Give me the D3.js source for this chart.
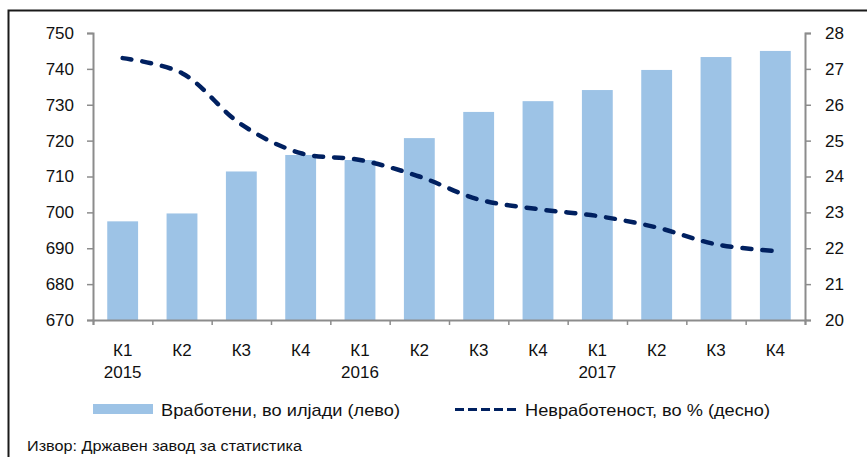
<!DOCTYPE html>
<html>
<head>
<meta charset="utf-8">
<script src="https://cdn.jsdelivr.net/npm/d3@7"></script>
<style>
  body { margin: 0; background: #fff; }
  svg { display: block; font-family: "Liberation Sans", Arial, sans-serif; }
</style>
</head>
<body>
<svg id="chart" width="867" height="457"></svg>
<script>
const quarters = ["К1","К2","К3","К4","К1","К2","К3","К4","К1","К2","К3","К4"];
const years = ["2015","","","","2016","","","","2017","","",""];
const employed = [697.5, 699.7, 711.4, 716.0, 714.6, 720.7, 728.0, 731.0, 734.1, 739.7, 743.3, 745.0];
const unemployment = [27.3, 26.88, 25.45, 24.65, 24.46, 24.0, 23.36, 23.09, 22.9, 22.58, 22.11, 21.92];
const leftTicks = [670, 680, 690, 700, 710, 720, 730, 740, 750];
const rightTicks = [20, 21, 22, 23, 24, 25, 26, 27, 28];
const legendLabels = ["Вработени, во илјади (лево)", "Невработеност, во % (десно)"];
const sourceText = "Извор: Државен завод за статистика";

const svg = d3.select("#chart");
const L = 93, R = 805, T = 33, B = 320;
const axisColor = "#8c8c8c";
const barColor = "#9dc3e6";
const lineColor = "#002060";
const fs = 17;

// frame
svg.append("rect").attr("x", 8.5).attr("y", 10.5).attr("width", 900).attr("height", 500)
  .attr("fill", "none").attr("stroke", "#1a1a1a").attr("stroke-width", 2);

const idx = d3.range(quarters.length);
const x = d3.scaleBand().domain(idx).range([L, R]).paddingInner(0.48).paddingOuter(0.24);
const xb = d3.scaleLinear().domain([0, quarters.length]).range([L, R]);
const yL = d3.scaleLinear().domain([670, 750]).range([B, T]);
const yR = d3.scaleLinear().domain([20, 28]).range([B, T]);

// bars
svg.append("g").selectAll("rect").data(employed).join("rect")
  .attr("x", (d, i) => x(i)).attr("width", x.bandwidth())
  .attr("y", d => yL(d)).attr("height", d => yL(670) - yL(d))
  .attr("fill", barColor);

// left axis
const gL = svg.append("g").attr("transform", `translate(${L},0)`)
  .call(d3.axisLeft(yL).tickValues(leftTicks).tickSize(6).tickPadding(13).tickFormat(d3.format("d")));
// right axis
const gR = svg.append("g").attr("transform", `translate(${R},0)`)
  .call(d3.axisRight(yR).tickValues(rightTicks).tickSize(6).tickPadding(14).tickFormat(d3.format("d")));
// bottom axis (ticks at band boundaries)
const gB = svg.append("g").attr("transform", `translate(0,${B})`)
  .call(d3.axisBottom(xb).tickValues(d3.range(quarters.length + 1)).tickSize(5).tickFormat(""));

[gL, gR, gB].forEach(g => {
  g.select(".domain").attr("stroke", axisColor).attr("stroke-width", 2);
  g.selectAll(".tick line").attr("stroke", axisColor).attr("stroke-width", 1.5);
  g.selectAll(".tick text").attr("fill", "#111").attr("font-size", fs)
    .attr("font-family", "'Liberation Sans', Arial, sans-serif");
});

// category labels
const cx = i => x(i) + x.bandwidth() / 2;
svg.append("g").selectAll("text").data(quarters).join("text")
  .attr("x", (d, i) => cx(i)).attr("y", 356).attr("text-anchor", "middle")
  .attr("font-size", fs).attr("fill", "#111").text(d => d);
svg.append("g").selectAll("text").data(years).join("text")
  .attr("x", (d, i) => cx(i)).attr("y", 378).attr("text-anchor", "middle")
  .attr("font-size", fs).attr("fill", "#111").text(d => d);

// unemployment line
const line = d3.line().x((d, i) => cx(i)).y(d => yR(d)).curve(d3.curveCatmullRom.alpha(0.5));
svg.append("path").datum(unemployment).attr("d", line)
  .attr("fill", "none").attr("stroke", lineColor).attr("stroke-width", 4.5)
  .attr("stroke-linecap", "round").attr("stroke-dasharray", "9,11");

// legend
svg.append("rect").attr("x", 93).attr("y", 404).attr("width", 60).attr("height", 10).attr("fill", barColor);
svg.append("text").attr("x", 161).attr("y", 416).attr("font-size", fs).attr("fill", "#111")
  .attr("textLength", 239).attr("lengthAdjust", "spacingAndGlyphs").text(legendLabels[0]);
svg.append("line").attr("x1", 455).attr("x2", 518).attr("y1", 409.5).attr("y2", 409.5)
  .attr("stroke", lineColor).attr("stroke-width", 3).attr("stroke-dasharray", "9,4");
svg.append("text").attr("x", 525).attr("y", 416).attr("font-size", fs).attr("fill", "#111")
  .attr("textLength", 245).attr("lengthAdjust", "spacingAndGlyphs").text(legendLabels[1]);

// source
svg.append("text").attr("x", 27).attr("y", 451).attr("font-size", 15.5).attr("fill", "#111")
  .attr("textLength", 275).attr("lengthAdjust", "spacingAndGlyphs").text(sourceText);
</script>
</body>
</html>
